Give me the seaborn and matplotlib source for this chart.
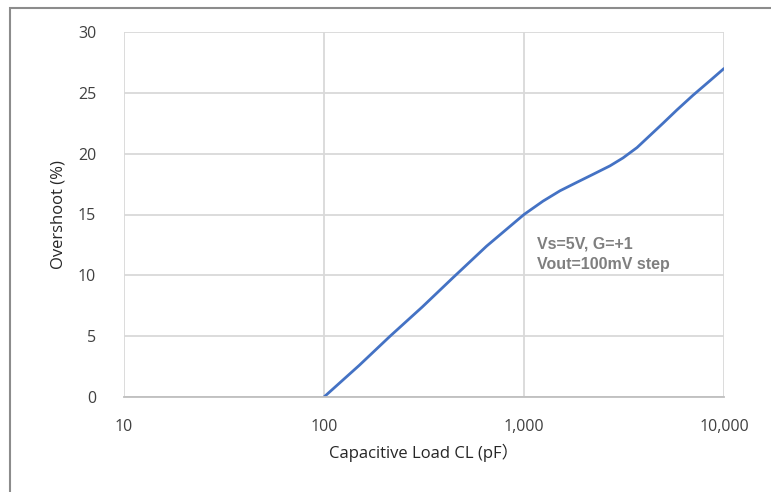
import matplotlib
matplotlib.use("Agg")
import matplotlib.pyplot as plt
import seaborn as sns
import pandas as pd
from matplotlib.patches import Rectangle
from matplotlib.ticker import FixedLocator, NullLocator

# Data
cap_load_pf = [100, 150, 214, 310, 441, 650, 1000, 1245, 1514, 1841, 2213, 2692,
               3126, 3673, 4266, 4955, 5821, 6998, 8511, 10000]
overshoot_pct = [0.0, 2.6, 5.0, 7.4, 9.8, 12.4, 15.0, 16.1, 16.95, 17.65, 18.3, 19.0,
                 19.65, 20.5, 21.5, 22.5, 23.6, 24.8, 26.0, 27.0]
x_ticks = [10, 100, 1000, 10000]
x_tick_labels = ["10", "100", "1,000", "10,000"]
y_ticks = [0, 5, 10, 15, 20, 25, 30]

df = pd.DataFrame({"CL": cap_load_pf, "Overshoot": overshoot_pct})

sns.set_theme(style="white")
plt.rcParams["font.family"] = ["Open Sans", "Noto Sans CJK SC", "DejaVu Sans"]

fig = plt.figure(figsize=(7.71, 4.92), dpi=100)
ax = fig.add_axes([124/771, 1-397/492, 600/771, 365/492])

sns.lineplot(data=df, x="CL", y="Overshoot", ax=ax, color="#4472c4", linewidth=2.0)

ax.set_xscale("log")
ax.set_xlim(10, 10000)
ax.set_ylim(0, 30)
ax.xaxis.set_major_locator(FixedLocator(x_ticks))
ax.xaxis.set_minor_locator(NullLocator())
ax.set_xticks(x_ticks)
ax.set_xticklabels(x_tick_labels)
ax.set_yticks(y_ticks)

ax.grid(True, color="#d9d9d9", linewidth=1.3)
ax.set_axisbelow(True)
for s in ["top", "right", "left"]:
    ax.spines[s].set_visible(False)
ax.spines["bottom"].set_color("#bfbfbf")
ax.spines["bottom"].set_linewidth(1.3)

ax.tick_params(axis="both", length=0, labelsize=11.5, colors="#404040")
ax.tick_params(axis="x", pad=16)
ax.tick_params(axis="y", pad=20)

ax.set_xlabel("Capacitive Load CL (pF\uff09", fontsize=12, color="#262626", labelpad=6)
ax.set_ylabel("Overshoot (%)", fontsize=12, color="#262626", labelpad=8)

ax.text(1160, 11.75, "Vs=5V, G=+1\nVout=100mV step", fontsize=11.5,
        fontweight="bold", color="#7f7f7f", family=["Liberation Sans", "DejaVu Sans"],
        ha="left", va="center", linespacing=1.45)

# outer chart border (left and top visible)
fig.patches.append(Rectangle((10/771, -0.1), 1.0, 1 - 8/492 + 0.1, transform=fig.transFigure,
                             fill=False, edgecolor="#8c8c8c", linewidth=1.5))

fig.savefig("out.png", dpi=100)
